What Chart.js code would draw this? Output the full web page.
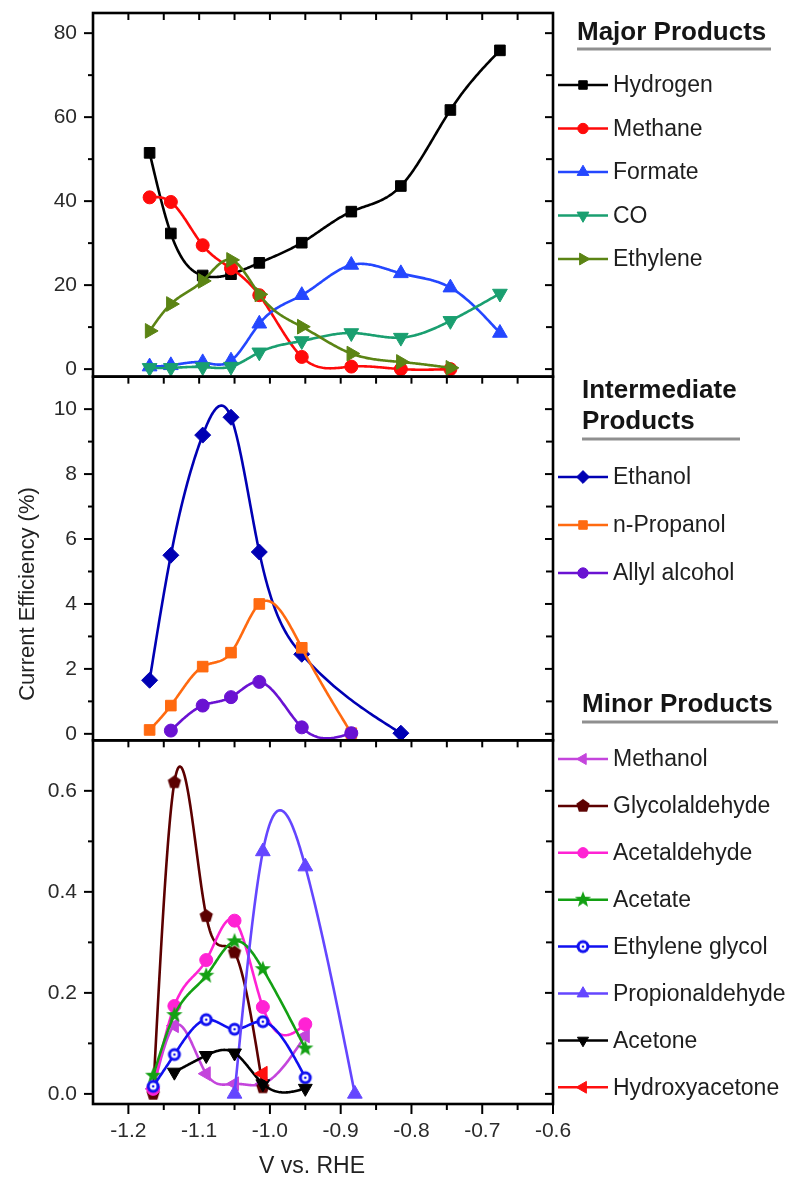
<!DOCTYPE html>
<html>
<head>
<meta charset="utf-8">
<title>Current efficiency vs potential</title>
<script src="https://cdn.jsdelivr.net/npm/chart.js@4.4.0/dist/chart.umd.min.js"></script>
<style>
  html, body { margin: 0; padding: 0; background: #fff; }
  canvas { display: block; }
</style>
</head>
<body>
<canvas id="fe" width="796" height="1183"></canvas>
<script>
// Potentials (V vs. RHE) and current efficiencies (%)

// Major products
const majorV = [-1.17, -1.14, -1.095, -1.055, -1.015, -0.955, -0.885, -0.815, -0.745, -0.675];
const hydrogen = [51.5, 32.3, 22.3, 22.6, 25.3, 30.1, 37.5, 43.6, 61.7, 75.9];
const methane = [40.9, 39.8, 29.5, 24.0, 17.6, 2.9, 0.6, 0.0, 0.0];
const formate = [0.6, 0.9, 1.6, 2.0, 10.8, 17.6, 24.8, 22.8, 19.4, 8.6];
const co = [0.3, 0.3, 0.5, 0.6, 4.0, 6.7, 8.6, 7.5, 11.5, 18.0];
const ethylene = [9.1, 15.5, 21.0, 26.0, 17.8, 10.1, 3.7, 1.7, 0.3];

// Intermediate products
const ethanolV = [-1.17, -1.14, -1.095, -1.055, -1.015, -0.955, -0.815];
const ethanol = [1.65, 5.5, 9.2, 9.75, 5.6, 2.45, 0.02];
const propanolV = [-1.17, -1.14, -1.095, -1.055, -1.015, -0.955, -0.885];
const propanol = [0.12, 0.87, 2.07, 2.5, 4.0, 2.65, 0.02];
const allylV = [-1.14, -1.095, -1.055, -1.015, -0.955, -0.885];
const allyl = [0.1, 0.87, 1.13, 1.6, 0.2, 0.02];

// Minor products
const minorV = [-1.165, -1.135, -1.09, -1.05, -1.01, -0.95];
const methanol = [0.01, 0.135, 0.04, 0.02, 0.02, 0.115];
const glycolaldehyde = [0.0, 0.617, 0.352, 0.28, 0.013];
const acetaldehyde = [0.01, 0.174, 0.265, 0.343, 0.172, 0.138];
const acetate = [0.036, 0.156, 0.234, 0.302, 0.247, 0.09];
const ethyleneGlycol = [0.015, 0.078, 0.147, 0.128, 0.143, 0.032];
const propionV = [-1.05, -1.01, -0.95, -0.88];
const propionaldehyde = [0.0, 0.48, 0.45, 0.0];
const acetoneV = [-1.135, -1.09, -1.05, -1.01, -0.95];
const acetone = [0.043, 0.076, 0.081, 0.02, 0.011];
const hydroxyV = [-1.01];
const hydroxyacetone = [0.04];

// Tick labels
const xTicks = [-1.2, -1.1, -1.0, -0.9, -0.8, -0.7, -0.6];
const majorTicks = [0, 20, 40, 60, 80];
const interTicks = [0, 2, 4, 6, 8, 10];
const minorTicks = [0, 0.2, 0.4, 0.6];

const FONT = '"Liberation Sans", Arial, Helvetica, sans-serif';
Chart.defaults.font.family = FONT;

// small canvases for marker shapes Chart.js doesn't have
function makeMarker(size, draw) {
  const c = document.createElement('canvas');
  c.width = c.height = size;
  draw(c.getContext('2d'), size / 2);
  return c;
}
const starMarker = makeMarker(20, (g, m) => {
  g.beginPath();
  for (let i = 0; i < 10; i++) {
    const r = i % 2 ? 3.6 : 8.5;
    const a = -Math.PI / 2 + i * Math.PI / 5;
    g.lineTo(m + r * Math.cos(a), m + r * Math.sin(a));
  }
  g.closePath();
  g.fillStyle = '#13a013';
  g.fill();
});
const pentagonMarker = makeMarker(18, (g, m) => {
  g.beginPath();
  for (let i = 0; i < 5; i++) {
    const a = -Math.PI / 2 + i * 2 * Math.PI / 5;
    g.lineTo(m + 7 * Math.cos(a), m + 7 * Math.sin(a));
  }
  g.closePath();
  g.fillStyle = '#5c0000';
  g.fill();
});
const ringMarker = makeMarker(16, (g, m) => {
  g.fillStyle = '#1010f0';
  g.beginPath(); g.arc(m, m, 6.5, 0, Math.PI * 2); g.fill();
  g.fillStyle = '#fff';
  g.beginPath(); g.arc(m, m, 3.4, 0, Math.PI * 2); g.fill();
  g.fillStyle = '#1010f0';
  g.beginPath(); g.arc(m, m, 1.3, 0, Math.PI * 2); g.fill();
});

function series(label, xs, ys, axis, color, style, radius, rotation) {
  return {
    label: label,
    data: ys.map((y, i) => ({ x: xs[i], y: y })),
    yAxisID: axis,
    borderColor: color,
    backgroundColor: color,
    pointBorderColor: color,
    pointBorderWidth: 1,
    pointStyle: style,
    pointRadius: radius,
    pointRotation: rotation || 0,
    showLine: false
  };
}

const datasets = [
  series('Hydrogen', majorV, hydrogen, 'yMajor', '#000000', 'rect', 7.5),
  series('Methane', majorV, methane, 'yMajor', '#ff0a0a', 'circle', 6.5),
  series('Formate', majorV, formate, 'yMajor', '#2447ff', 'triangle', 8.5),
  series('CO', majorV, co, 'yMajor', '#1a9f70', 'triangle', 8.5, 180),
  series('Ethylene', majorV, ethylene, 'yMajor', '#5b8414', 'triangle', 8.5, 90),

  series('Ethanol', ethanolV, ethanol, 'yInter', '#0000b4', 'rectRot', 8),
  series('n-Propanol', propanolV, propanol, 'yInter', '#ff6a10', 'rect', 7.5),
  series('Allyl alcohol', allylV, allyl, 'yInter', '#6a12d2', 'circle', 6.5),

  series('Methanol', minorV, methanol, 'yMinor', '#c445dc', 'triangle', 8, -90),
  series('Glycolaldehyde', minorV, glycolaldehyde, 'yMinor', '#5c0000', pentagonMarker, 7),
  series('Acetaldehyde', minorV, acetaldehyde, 'yMinor', '#ff22d4', 'circle', 6.5),
  series('Acetate', minorV, acetate, 'yMinor', '#13a013', starMarker, 8),
  series('Ethylene glycol', minorV, ethyleneGlycol, 'yMinor', '#1010f0', ringMarker, 6.5),
  series('Propionaldehyde', propionV, propionaldehyde, 'yMinor', '#6446ff', 'triangle', 8.5),
  series('Acetone', acetoneV, acetone, 'yMinor', '#000000', 'triangle', 8, 180),
  series('Hydroxyacetone', hydroxyV, hydroxyacetone, 'yMinor', '#ff1010', 'triangle', 8.5, -90)
];
// later series drawn on top
datasets.forEach((d, i) => { d.order = -i; });

// natural cubic spline through the points (like Origin's "Spline" connect)
function splineCoeffs(xs, ys) {
  const n = xs.length;
  const h = [], l = [1], mu = [0], z = [0];
  const b = [], c = new Array(n).fill(0), d = [];
  for (let i = 0; i < n - 1; i++) h[i] = xs[i + 1] - xs[i];
  for (let i = 1; i < n - 1; i++) {
    const alpha = 3 / h[i] * (ys[i + 1] - ys[i]) - 3 / h[i - 1] * (ys[i] - ys[i - 1]);
    l[i] = 2 * (xs[i + 1] - xs[i - 1]) - h[i - 1] * mu[i - 1];
    mu[i] = h[i] / l[i];
    z[i] = (alpha - h[i - 1] * z[i - 1]) / l[i];
  }
  for (let j = n - 2; j >= 0; j--) {
    c[j] = z[j] - mu[j] * c[j + 1];
    b[j] = (ys[j + 1] - ys[j]) / h[j] - h[j] * (c[j + 1] + 2 * c[j]) / 3;
    d[j] = (c[j + 1] - c[j]) / (3 * h[j]);
  }
  return { b, c, d };
}

const splinePlugin = {
  id: 'splineLines',
  beforeDatasetDraw(chart, args) {
    const ds = chart.data.datasets[args.index];
    const pts = ds.data;
    if (pts.length < 2) return;
    const xs = pts.map(p => p.x), ys = pts.map(p => p.y);
    const sp = splineCoeffs(xs, ys);
    const xScale = chart.scales.x, yScale = chart.scales[ds.yAxisID];
    const ctx = chart.ctx;
    ctx.save();
    ctx.beginPath();
    ctx.rect(xScale.left, yScale.top, xScale.width, yScale.height);
    ctx.clip();
    ctx.beginPath();
    for (let j = 0; j < xs.length - 1; j++) {
      const steps = 40;
      for (let k = 0; k <= steps; k++) {
        const t = (xs[j + 1] - xs[j]) * k / steps;
        const v = ys[j] + sp.b[j] * t + sp.c[j] * t * t + sp.d[j] * t * t * t;
        const px = xScale.getPixelForValue(xs[j] + t);
        const py = yScale.getPixelForValue(v);
        if (j === 0 && k === 0) ctx.moveTo(px, py); else ctx.lineTo(px, py);
      }
    }
    ctx.strokeStyle = ds.borderColor;
    ctx.lineWidth = 2.6;
    ctx.lineJoin = 'round';
    ctx.stroke();
    ctx.restore();
  }
};

function minorValues(major, min, max) {
  const step = major[1] - major[0];
  const out = [];
  major.forEach(v => {
    [v - step / 2, v + step / 2].forEach(m => {
      if (m > min + 1e-9 && m < max - 1e-9 && !out.some(o => Math.abs(o - m) < 1e-9)) out.push(m);
    });
  });
  return out;
}

// panel frames and ticks on all four sides
const framePlugin = {
  id: 'frames',
  afterDraw(chart) {
    const ctx = chart.ctx;
    const x = chart.scales.x;
    const left = x.left, right = x.right;
    const xMaj = x.ticks.map(t => t.value);
    const xMin = minorValues(xMaj, x.min, x.max);
    ctx.save();
    ctx.strokeStyle = '#000';
    ctx.lineWidth = 2;
    const seg = (x0, y0, x1, y1) => { ctx.beginPath(); ctx.moveTo(x0, y0); ctx.lineTo(x1, y1); ctx.stroke(); };
    ['yMajor', 'yInter', 'yMinor'].forEach(id => {
      const s = chart.scales[id];
      const maj = s.ticks.map(t => t.value);
      const mnr = minorValues(maj, s.min, s.max);
      maj.forEach(v => {
        const py = s.getPixelForValue(v);
        seg(left - 9, py, left, py);
        seg(right - 8, py, right, py);
      });
      mnr.forEach(v => {
        const py = s.getPixelForValue(v);
        seg(left - 5, py, left, py);
        seg(right - 7, py, right, py);
      });
      xMaj.concat(xMin).forEach(v => {
        const px = x.getPixelForValue(v);
        seg(px, s.top, px, s.top + 7);
      });
    });
    const bottom = chart.scales.yMinor.bottom;
    xMaj.forEach(v => { const px = x.getPixelForValue(v); seg(px, bottom, px, bottom + 10); });
    xMin.forEach(v => { const px = x.getPixelForValue(v); seg(px, bottom, px, bottom + 6); });
    ctx.lineWidth = 2.6;
    ['yMajor', 'yInter', 'yMinor'].forEach(id => {
      const s = chart.scales[id];
      ctx.strokeRect(left, s.top, right - left, s.bottom - s.top);
    });
    ctx.restore();
  }
};

const labelPlugin = {
  id: 'axisLabels',
  afterDraw(chart, args, opts) {
    const ctx = chart.ctx;
    ctx.save();
    ctx.fillStyle = '#222';
    ctx.font = '22px ' + FONT;
    ctx.textAlign = 'center';
    ctx.textBaseline = 'middle';
    ctx.translate(opts.yTitle.x, opts.yTitle.y);
    ctx.rotate(-Math.PI / 2);
    ctx.fillText(opts.yTitle.text, 0, 0);
    ctx.restore();
    ctx.save();
    ctx.fillStyle = '#222';
    ctx.font = '23px ' + FONT;
    ctx.textAlign = 'center';
    ctx.textBaseline = 'middle';
    ctx.fillText(opts.xTitle.text, opts.xTitle.x, opts.xTitle.y);
    ctx.restore();
  }
};

const legendPlugin = {
  id: 'sideLegend',
  afterDraw(chart, args, opts) {
    const ctx = chart.ctx;
    const drawPoint = Chart.helpers && Chart.helpers.drawPoint;
    opts.groups.forEach(g => {
      ctx.save();
      ctx.textAlign = 'left';
      ctx.textBaseline = 'middle';
      ctx.fillStyle = '#151515';
      ctx.font = 'bold 26px ' + FONT;
      g.title.forEach((t, i) => ctx.fillText(t, g.titleX, g.titleY[i]));
      ctx.strokeStyle = '#8f8f8f';
      ctx.lineWidth = 3;
      ctx.beginPath(); ctx.moveTo(g.titleX, g.lineY); ctx.lineTo(g.lineX1, g.lineY); ctx.stroke();

      const items = chart.data.datasets.filter(d => d.yAxisID === g.axis);
      items.forEach((d, i) => {
        const y = g.rowY + i * g.rowGap;
        ctx.strokeStyle = d.borderColor;
        ctx.lineWidth = 2.5;
        ctx.beginPath(); ctx.moveTo(opts.lineX0, y); ctx.lineTo(opts.lineX1, y); ctx.stroke();
        ctx.fillStyle = d.backgroundColor;
        ctx.strokeStyle = d.pointBorderColor;
        ctx.lineWidth = 1;
        const mx = (opts.lineX0 + opts.lineX1) / 2;
        if (drawPoint) {
          drawPoint(ctx, { pointStyle: d.pointStyle, radius: d.pointRadius * 0.8, rotation: d.pointRotation, borderWidth: 1 }, mx, y);
        } else {
          ctx.beginPath(); ctx.arc(mx, y, 5, 0, Math.PI * 2); ctx.fill();
        }
        ctx.fillStyle = '#1e1e1e';
        ctx.font = '23px ' + FONT;
        ctx.fillText(d.label, opts.textX, y + 1);
      });
      ctx.restore();
    });
  }
};

function yAxis(min, max, ticks, decimals) {
  return {
    type: 'linear',
    position: 'left',
    stack: 'panels',
    stackWeight: 1,
    min: min,
    max: max,
    grid: { display: false, drawTicks: false },
    border: { display: false },
    afterBuildTicks: s => { s.ticks = ticks.map(v => ({ value: v })); },
    afterFit: s => { s.width = 93; s.paddingTop = 0; s.paddingBottom = 0; },
    ticks: {
      padding: 16,
      color: '#2a2a2a',
      font: { size: 21 },
      callback: v => v.toFixed(decimals)
    }
  };
}

new Chart(document.getElementById('fe'), {
  type: 'line',
  data: { datasets: datasets },
  plugins: [splinePlugin, framePlugin, labelPlugin, legendPlugin],
  options: {
    responsive: false,
    animation: false,
    events: [],
    layout: { padding: { left: 0, right: 243, top: 13, bottom: 0 } },
    scales: {
      x: {
        type: 'linear',
        min: -1.25,
        max: -0.6,
        grid: { display: false, drawTicks: false },
        border: { display: false },
        afterBuildTicks: s => { s.ticks = xTicks.map(v => ({ value: v })); },
        afterFit: s => { s.height = 79; s.paddingLeft = 0; s.paddingRight = 0; },
        ticks: {
          padding: 15,
          color: '#2a2a2a',
          font: { size: 21 },
          autoSkip: false,
          maxRotation: 0,
          callback: v => v.toFixed(1)
        }
      },
      yMinor: yAxis(-0.02, 0.7, minorTicks, 1),
      yInter: yAxis(-0.2, 11, interTicks, 0),
      yMajor: yAxis(-1.8, 84.8, majorTicks, 0)
    },
    plugins: {
      legend: { display: false },
      tooltip: { enabled: false },
      axisLabels: {
        yTitle: { text: 'Current Efficiency (%)', x: 28, y: 594 },
        xTitle: { text: 'V vs. RHE', x: 312, y: 1167 }
      },
      sideLegend: {
        lineX0: 558,
        lineX1: 608,
        textX: 613,
        groups: [
          { axis: 'yMajor', title: ['Major Products'], titleX: 577, titleY: [33], lineY: 49, lineX1: 771, rowY: 85, rowGap: 43.5 },
          { axis: 'yInter', title: ['Intermediate', 'Products'], titleX: 582, titleY: [391, 422], lineY: 439, lineX1: 740, rowY: 477, rowGap: 48 },
          { axis: 'yMinor', title: ['Minor Products'], titleX: 582, titleY: [705], lineY: 722, lineX1: 778, rowY: 759, rowGap: 46.9 }
        ]
      }
    }
  }
});
</script>
</body>
</html>
